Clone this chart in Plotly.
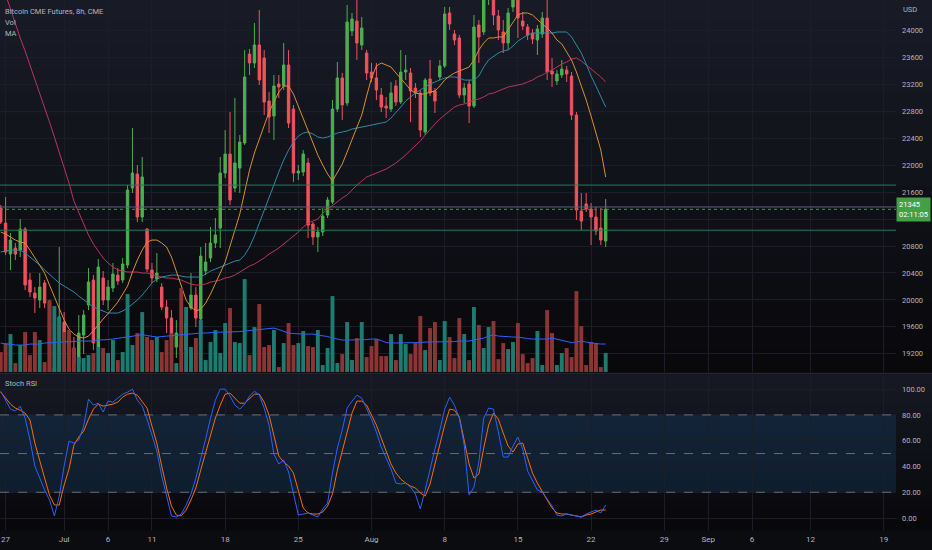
import pandas as pd
import plotly.graph_objects as go

# ---------------- data ----------------
trading_days = pd.bdate_range("2022-06-27", "2022-08-22")
bar_times = [pd.Timestamp("2022-06-24 16:00")]
for d in trading_days:
    for h in (0, 8, 16):
        bar_times.append(d + pd.Timedelta(hours=h))
bar_times.append(pd.Timestamp("2022-08-23 00:00"))

open_ = [21364, 21141, 20681, 20770, 20740, 21052, 20295, 20102, 19998, 20251,
         19968, 18869, 18929, 19671, 19404, 19285, 19063, 19478, 19924, 20295,
         19300, 20325, 19998, 20176, 20369, 20295, 20518, 21661, 21869, 21231,
         21052, 20444, 20310, 20191, 19894, 19731, 19300, 19360, 19255, 19879,
         20072, 19716, 20429, 20622, 20845, 21067, 21884, 22166, 21661, 21958,
         22330, 23651, 23518, 23785, 23592, 22953, 22730, 23206, 23176, 23488,
         22834, 21884, 21899, 22033, 21127, 20934, 21008, 21260, 21453, 22834,
         23295, 22923, 23993, 24141, 23785, 23666, 23384, 23295, 23042, 22879,
         22834, 23176, 22938, 23384, 23369, 23146, 23072, 22493, 23280, 23102,
         23310, 23473, 24260, 23948, 23889, 23042, 23206, 22879, 24082, 23978,
         24602, 24602, 24215, 23978, 23815, 24349, 24498, 24141, 24052, 23963,
         23859, 23948, 24186, 23399, 23250, 23339, 23413, 23324, 22745, 21320,
         21424, 21349, 21231, 21067, 20874]
high = [21409, 21528, 20993, 20845, 21201, 21082, 20399, 20191, 20399, 20295,
        19998, 19181, 20785, 19820, 19552, 19449, 19775, 19849, 20473, 20369,
        20607, 20429, 20295, 20548, 20473, 20622, 21706, 22552, 22003, 22122,
        21067, 20548, 20696, 20251, 19998, 19849, 19701, 19478, 19894, 20399,
        20191, 20785, 20845, 21082, 21216, 22122, 22522, 22790, 22998, 22448,
        23711, 23725, 24112, 24305, 23711, 23087, 23339, 23339, 23815, 23711,
        22894, 22003, 22225, 22107, 21156, 21082, 21364, 21528, 22968, 23532,
        23369, 24379, 24260, 24572, 24201, 23711, 23518, 23518, 23146, 23013,
        23235, 23265, 23711, 23636, 23443, 23220, 23117, 23295, 23562, 23146,
        23562, 24349, 24349, 24008, 23933, 23220, 23265, 24230, 24156, 24676,
        25196, 24899, 24305, 24156, 24334, 24750, 24602, 24275, 24097, 24022,
        24082, 24275, 24527, 23592, 23413, 23562, 23473, 23384, 22790, 21587,
        21587, 21438, 21379, 21364, 21498]
low = [21127, 20666, 20444, 20592, 20637, 20146, 20043, 19805, 19879, 19879,
       18736, 18632, 18840, 19330, 19137, 19003, 18988, 19196, 19849, 19255,
       19226, 19924, 19849, 20117, 20221, 20251, 20473, 21587, 21156, 21156,
       20414, 20251, 20265, 19849, 19508, 19300, 19137, 19107, 19181, 19849,
       19597, 19671, 20369, 20562, 20770, 20770, 21810, 21409, 21602, 21587,
       22300, 23339, 23443, 23191, 22745, 22478, 22374, 22998, 23117, 22552,
       21750, 21780, 21839, 20919, 20815, 20711, 20948, 21216, 21424, 22790,
       22671, 22879, 23918, 23562, 23711, 23265, 23235, 22968, 22790, 22701,
       22790, 22879, 22909, 23265, 22641, 22998, 22419, 22448, 23027, 22775,
       23265, 23443, 24008, 23785, 22998, 22923, 22626, 22849, 23518, 23933,
       24379, 24082, 23859, 23666, 23711, 24275, 23889, 24008, 23859, 23800,
       23636, 23889, 23265, 23161, 23191, 23295, 23235, 22671, 21186, 21037,
       21305, 20815, 20963, 20815, 20785]
close = [21156, 20711, 20889, 20681, 21052, 20221, 20117, 20028, 20191, 19953,
         18899, 18988, 19746, 19404, 19255, 19063, 19508, 19775, 20265, 19360,
         20488, 19998, 20191, 20384, 20280, 20533, 21631, 21884, 21231, 21825,
         20458, 20325, 20399, 19894, 19731, 19404, 19508, 19255, 19657, 20072,
         19731, 20651, 20562, 20845, 20963, 21884, 22166, 21483, 22033, 22344,
         23310, 23518, 23785, 23265, 22938, 22716, 23176, 23161, 23488, 22626,
         21884, 21914, 22166, 21112, 20934, 21008, 21245, 21483, 22834, 23295,
         22894, 24126, 24171, 23815, 24037, 23369, 23295, 23117, 22864, 22849,
         23072, 22938, 23384, 23413, 23102, 23072, 22522, 23265, 23072, 22953,
         23473, 24245, 24097, 23859, 23042, 23146, 22879, 24052, 23904, 24602,
         24899, 24230, 24008, 23815, 24260, 24527, 24186, 24067, 23933, 23874,
         24022, 24186, 23384, 23354, 23354, 23428, 23354, 22745, 21335, 21171,
         21349, 21231, 21023, 20889, 21345]
volume = [2000, 2900, 3800, 900, 2700, 4000, 1700, 4000, 3200, 1000,
          7200, 6600, 5500, 4000, 4200, 2400, 1500, 1400, 1700, 1900,
          2500, 2400, 1900, 3200, 1200, 2000, 7800, 2700, 3900, 6000,
          3500, 3200, 3500, 2000, 3200, 3900, 900, 8400, 6500, 2500,
          3400, 5200, 1200, 3000, 4200, 1900, 4900, 6400, 3000, 2900,
          9300, 1700, 4500, 6800, 2500, 2700, 4200, 500, 2900, 4900,
          2700, 2900, 4100, 2600, 2500, 4200, 700, 2400, 7600, 900,
          1800, 5000, 1200, 3400, 5000, 1500, 2600, 3300, 1600, 1600,
          3800, 1200, 3800, 2800, 1800, 2900, 5600, 2200, 4400, 5000,
          1200, 5100, 3500, 1400, 5400, 3800, 1200, 6500, 4700, 2400,
          4500, 5100, 1300, 2900, 2300, 3000, 4900, 1800, 900, 1400,
          4100, 700, 6200, 3900, 700, 1900, 2400, 1500, 8100, 4600,
          700, 3000, 2900, 500, 1900]
volume_ma = [2900, 2800, 2800, 2700, 2700, 2700, 2800, 2800, 2800, 2900,
             2900, 2950, 3000, 3000, 3000, 3050, 3100, 3100, 3100, 3100,
             3200, 3200, 3250, 3300, 3400, 3450, 3500, 3600, 3700, 3750,
             3650, 3550, 3500, 3550, 3600, 3650, 3700, 3750, 3800, 3850,
             3900, 3900, 3900, 3950, 3950, 4000, 4000, 4000, 4050, 4050,
             4100, 4150, 4200, 4250, 4300, 4350, 4400, 4250, 4050, 3900,
             3850, 3800, 3800, 3800, 3800, 3700, 3650, 3550, 3400, 3300,
             3200, 3200, 3200, 3200, 3200, 3250, 3300, 3300, 3150, 2950,
             2900, 2900, 2900, 2900, 2900, 2950, 2950, 3000, 3000, 3000,
             3050, 3050, 3050, 3050, 3100, 3100, 3100, 3200, 3300, 3400,
             3600, 3700, 3600, 3550, 3500, 3500, 3500, 3400, 3350, 3300,
             3300, 3300, 3300, 3400, 3300, 3200, 3100, 2950, 3000, 3100,
             3000, 2900, 2850, 2800, 2800]
ma_fast = [21008, 20978, 20934, 20889, 20859, 20845, 20740, 20622, 20518, 20399,
           20221, 20043, 19879, 19701, 19567, 19493, 19449, 19434, 19463, 19538,
           19627, 19716, 19790, 19879, 19968, 20087, 20206, 20414, 20592, 20740,
           20859, 20889, 20889, 20845, 20785, 20637, 20429, 20191, 19998, 19894,
           19835, 19864, 19953, 20087, 20236, 20399, 20562, 20800, 21037, 21275,
           21602, 21928, 22181, 22389, 22597, 22790, 22938, 23087, 23176, 23176,
           23057, 22879, 22701, 22508, 22344, 22151, 22003, 21869, 21765, 21884,
           22018, 22196, 22389, 22552, 22745, 23027, 23295, 23473, 23518, 23488,
           23458, 23369, 23295, 23206, 23117, 23072, 23057, 23057, 23087, 23102,
           23176, 23265, 23324, 23369, 23399, 23428, 23458, 23562, 23711, 23815,
           23889, 23889, 23904, 23904, 24008, 24126, 24230, 24260, 24260, 24230,
           24156, 24097, 24037, 23963, 23859, 23800, 23681, 23562, 23384, 23191,
           22968, 22730, 22478, 22226, 21825]
ma_mid = [20711, 20726, 20740, 20740, 20740, 20696, 20637, 20577, 20518, 20444,
          20384, 20310, 20251, 20206, 20161, 20117, 20057, 19998, 19939, 19894,
          19864, 19835, 19805, 19805, 19805, 19835, 19879, 19939, 19998, 20072,
          20161, 20251, 20310, 20340, 20354, 20369, 20369, 20354, 20340, 20340,
          20340, 20340, 20384, 20429, 20458, 20488, 20518, 20548, 20577, 20592,
          20666, 20785, 20948, 21141, 21335, 21528, 21721, 21899, 22077, 22225,
          22344, 22433, 22478, 22493, 22463, 22419, 22404, 22419, 22448, 22478,
          22493, 22508, 22537, 22552, 22567, 22582, 22597, 22612, 22626, 22641,
          22701, 22775, 22864, 22953, 23013, 23072, 23117, 23161, 23206, 23235,
          23265, 23295, 23310, 23310, 23295, 23265, 23265, 23265, 23324, 23458,
          23562, 23621, 23666, 23696, 23711, 23770, 23844, 23889, 23933, 23963,
          23963, 23963, 23963, 23963, 23978, 23978, 23978, 23904, 23785, 23666,
          23503, 23324, 23176, 23027, 22864]
ma_slow = [24750, 24527, 24305, 24097, 23889, 23696, 23488, 23280, 23087, 22864,
           22641, 22419, 22196, 21973, 21735, 21468, 21305, 21141, 20963, 20830,
           20726, 20622, 20548, 20488, 20444, 20429, 20414, 20414, 20414, 20399,
           20399, 20384, 20354, 20340, 20325, 20325, 20310, 20295, 20265, 20236,
           20221, 20221, 20236, 20265, 20280, 20295, 20325, 20340, 20369, 20414,
           20458, 20503, 20533, 20577, 20622, 20681, 20726, 20770, 20830, 20889,
           20948, 21008, 21082, 21141, 21171, 21201, 21290, 21349, 21409, 21468,
           21513, 21557, 21632, 21706, 21765, 21825, 21854, 21884, 21914, 21943,
           21988, 22033, 22092, 22151, 22225, 22285, 22359, 22448, 22537, 22612,
           22686, 22745, 22805, 22864, 22894, 22909, 22938, 22968, 22983, 23013,
           23057, 23072, 23102, 23131, 23161, 23176, 23191, 23206, 23235, 23265,
           23310, 23339, 23384, 23413, 23458, 23503, 23532, 23577, 23592, 23547,
           23488, 23428, 23369, 23310, 23235]
stoch_k = [98.4, 91.5, 84.5, 83.0, 86.8, 77.5, 60.5, 40.3, 30.2, 21.7,
           14.0, 1.6, 17.0, 40.3, 59.7, 58.1, 60.5, 71.3, 92.2, 87.6,
           89.1, 82.2, 90.7, 89.9, 93.0, 96.1, 97.7, 100.0, 91.5, 86.8,
           76.7, 64.3, 51.9, 32.6, 16.3, 1.6, 0.8, 3.0, 10.0, 18.6,
           31.0, 45.7, 61.2, 77.5, 91.5, 100.0, 100.0, 94.6, 87.6, 84.5,
           88.4, 94.6, 98.4, 95.3, 85.3, 72.1, 49.6, 41.9, 45.0, 35.7,
           18.6, 2.3, 3.1, 3.9, 2.3, 0.8, 7.0, 11.6, 34.9, 54.3,
           68.2, 85.3, 90.7, 95.3, 93.0, 85.3, 76.7, 66.7, 55.0, 46.5,
           38.0, 27.1, 26.4, 27.1, 24.0, 18.6, 7.0, 21.7, 38.8, 53.5,
           68.2, 84.5, 93.8, 87.6, 77.5, 56.6, 17.8, 24.0, 43.4, 77.5,
           85.3, 84.5, 66.7, 47.3, 47.3, 55.8, 62.8, 53.5, 36.4, 28.7,
           21.7, 20.2, 14.7, 9.3, 2.3, 1.6, 3.1, 2.3, 1.6, 0.8,
           3.1, 4.7, 6.2, 3.9, 10.1]
stoch_d = [97.7, 93.0, 88.4, 85.3, 83.7, 81.4, 76.0, 58.1, 43.4, 31.0,
           17.8, 10.1, 10.1, 25.6, 38.0, 56.6, 62.8, 67.4, 76.7, 84.5,
           88.4, 86.8, 87.6, 88.4, 89.9, 93.8, 96.1, 96.9, 95.3, 90.7,
           85.3, 71.3, 58.1, 40.3, 23.3, 9.3, 2.3, 1.6, 6.2, 14.0,
           23.3, 37.2, 51.2, 65.1, 77.5, 87.6, 96.1, 96.9, 93.0, 89.1,
           89.1, 93.0, 96.1, 96.1, 89.9, 79.8, 62.8, 48.1, 43.4, 40.3,
           34.9, 20.2, 7.8, 3.9, 3.1, 3.1, 4.7, 9.3, 18.6, 37.2,
           51.2, 66.7, 81.4, 90.7, 90.7, 87.6, 79.8, 72.1, 62.0, 51.9,
           41.9, 34.9, 30.2, 27.1, 24.8, 23.3, 19.4, 17.0, 26.4, 41.9,
           57.4, 72.1, 84.5, 83.7, 78.3, 60.5, 41.9, 31.0, 34.1, 54.3,
           72.1, 81.4, 76.7, 65.9, 55.8, 51.2, 57.4, 58.1, 46.5, 34.9,
           27.1, 20.2, 14.0, 7.8, 3.9, 3.1, 3.1, 2.3, 1.6, 0.8,
           2.3, 3.1, 4.7, 6.2, 6.2]

level_lines = [21705, 21380, 21035]
last_price = 21345
price_ticks = [19200, 19600, 20000, 20400, 20800, 21200, 21600, 22000, 22400, 22800,
               23200, 23600, 24000]
price_ticktext = ["19200", "19600", "20000", "20400", "20800", "", "21600", "22000",
                  "22400", "22800", "23200", "23600", "24000"]
tick_dates = ["2022-06-27", "2022-07-01", "2022-07-06", "2022-07-11", "2022-07-18",
              "2022-07-25", "2022-08-01", "2022-08-08", "2022-08-15", "2022-08-22",
              "2022-08-29", "2022-09-01", "2022-09-06", "2022-09-12", "2022-09-19"]
tick_text = ["27", "Jul", "6", "11", "18", "25", "Aug", "8", "15", "22",
             "29", "Sep", "6", "12", "19"]
stoch_ticks = [0, 20, 40, 60, 80, 100]
stoch_levels = [80, 50, 20]

# ---------------- styling ----------------
UP = "#4caf50"
DOWN = "#f0525e"
FONT = "Roboto, Liberation Sans, sans-serif"
TXT = "#b2b5be"
GRID = "#1b1e29"
BG = "#0b0c10"
MAIN_DOM = [0.298, 1.0]
STOCH_DOM = [0.0, 0.294]

vol_colors = ["#1e7b6f" if c >= o else "#8d3434" for o, c in zip(open_, close)]

fig = go.Figure()
fig.add_trace(go.Bar(x=bar_times, y=volume, marker=dict(color=vol_colors, line=dict(width=0)),
                     xaxis="x", yaxis="y2"))
fig.add_trace(go.Scatter(x=bar_times, y=volume_ma, mode="lines", line=dict(color="#2962ff", width=1),
                         xaxis="x", yaxis="y2"))
fig.add_trace(go.Candlestick(x=bar_times, open=open_, high=high, low=low, close=close,
                             increasing=dict(line=dict(color=UP, width=1), fillcolor=UP),
                             decreasing=dict(line=dict(color=DOWN, width=1), fillcolor=DOWN),
                             whiskerwidth=0, xaxis="x", yaxis="y"))
for series, col in ((ma_slow, "#b8365c"), (ma_mid, "#2a8ba8"), (ma_fast, "#d89030")):
    fig.add_trace(go.Scatter(x=bar_times, y=series, mode="lines", line=dict(color=col, width=1),
                             xaxis="x", yaxis="y"))
fig.add_trace(go.Scatter(x=bar_times, y=stoch_d, mode="lines", line=dict(color="#ff6d00", width=1),
                         xaxis="x2", yaxis="y3"))
fig.add_trace(go.Scatter(x=bar_times, y=stoch_k, mode="lines", line=dict(color="#2962ff", width=1),
                         xaxis="x2", yaxis="y3"))


def mix(c1, c2, t):
    return "rgb(%d,%d,%d)" % tuple(round(a + (b - a) * t) for a, b in zip(c1, c2))


shapes = []
# vertical background gradients for each pane (styling only)
N = 16
for dom, top_c, bot_c in ((MAIN_DOM, (24, 27, 38), (9, 9, 12)), (STOCH_DOM, (22, 25, 35), (8, 8, 11))):
    h = (dom[1] - dom[0]) / N
    for i in range(N):
        y1 = dom[1] - i * h
        shapes.append(dict(type="rect", xref="paper", yref="paper", x0=0, x1=1.05,
                           y0=y1 - h - 0.001, y1=y1, fillcolor=mix(top_c, bot_c, i / (N - 1)),
                           line=dict(width=0), layer="below"))
shapes.append(dict(type="rect", xref="x2 domain", yref="y3", x0=0, x1=1, y0=20, y1=80,
                   fillcolor="rgba(33,150,243,0.13)", line=dict(width=0), layer="below"))
for i, lv in enumerate(level_lines):
    col = "#5a5d86" if i == 1 else "#1f7a5e"
    shapes.append(dict(type="line", xref="x domain", yref="y", x0=0, x1=1, y0=lv, y1=lv,
                       line=dict(color=col, width=1)))
shapes.append(dict(type="line", xref="x domain", yref="y", x0=0, x1=1, y0=last_price, y1=last_price,
                   line=dict(color="#3f8f52", width=1, dash="dot")))
for lv in stoch_levels:
    shapes.append(dict(type="line", xref="x2 domain", yref="y3", x0=0, x1=1, y0=lv, y1=lv,
                       line=dict(color="#6a6d78", width=1, dash="dash")))
shapes.append(dict(type="line", xref="paper", yref="paper", x0=0, x1=1.05, y0=0.2955, y1=0.2955,
                   line=dict(color="#2a2e39", width=1)))

LBL = dict(size=7.5, color=TXT, family=FONT)
annotations = [
    dict(text="Bitcoin CME Futures, 8h, CME", x=0.003, y=0.979, xref="paper", yref="paper",
         xanchor="left", yanchor="middle", showarrow=False, font=LBL),
    dict(text="Vol", x=0.003, y=0.958, xref="paper", yref="paper",
         xanchor="left", yanchor="middle", showarrow=False, font=LBL),
    dict(text="MA", x=0.003, y=0.937, xref="paper", yref="paper",
         xanchor="left", yanchor="middle", showarrow=False, font=LBL),
    dict(text="Stoch RSI", x=0.003, y=0.2755, xref="paper", yref="paper",
         xanchor="left", yanchor="middle", showarrow=False, font=LBL),
    dict(text="USD", x=1.006, y=0.983, xref="paper", yref="paper",
         xanchor="left", yanchor="middle", showarrow=False, font=dict(size=7.5, color=TXT, family=FONT)),
    dict(text=f"{last_price}<br>02:11:05", x=1.0, y=last_price, xref="paper", yref="y",
         xanchor="left", yanchor="middle", showarrow=False, align="left",
         bgcolor="#43a047", borderpad=2, font=dict(size=7.5, color="#ffffff", family=FONT)),
]

xcommon = dict(type="date", range=["2022-06-24 14:50", "2022-09-19 20:00"],
               rangebreaks=[dict(bounds=["sat", "mon"])], tickvals=tick_dates,
               showgrid=True, gridcolor=GRID, gridwidth=1, zeroline=False, showline=False,
               ticks="", fixedrange=True)

fig.update_layout(
    width=932, height=550,
    margin=dict(l=0, r=36, t=0, b=20),
    paper_bgcolor=BG, plot_bgcolor="rgba(0,0,0,0)",
    showlegend=False, hovermode=False,
    font=dict(family=FONT, size=8, color=TXT),
    bargap=0.2,
    xaxis=dict(domain=[0, 1], anchor="y", showticklabels=False,
               rangeslider=dict(visible=False), **xcommon),
    xaxis2=dict(domain=[0, 1], anchor="y3", matches="x", ticktext=tick_text, ticklabelstandoff=3,
                tickfont=dict(size=8, color=TXT, family=FONT), **xcommon),
    yaxis=dict(domain=MAIN_DOM, side="right", range=[18929, 24453], tickvals=price_ticks,
               ticktext=price_ticktext,
               showgrid=True, gridcolor=GRID, zeroline=False, ticks="", ticklabelstandoff=5,
               tickfont=dict(size=7.5, color=TXT, family=FONT), fixedrange=True),
    yaxis2=dict(overlaying="y", range=[0, 37200], visible=False, fixedrange=True),
    yaxis3=dict(domain=STOCH_DOM, side="right", range=[-9.3, 111.6], tickvals=stoch_ticks,
                tickformat=".2f", showgrid=True, gridcolor=GRID, zeroline=False, ticks="",
                ticklabelstandoff=5, tickfont=dict(size=7.5, color=TXT, family=FONT), fixedrange=True),
    shapes=shapes,
    annotations=annotations,
)

fig.write_html("out.html", config={"displayModeBar": False, "staticPlot": True},
               post_script="document.body.style.margin='0';document.body.style.padding='0';document.body.style.overflow='hidden';")
